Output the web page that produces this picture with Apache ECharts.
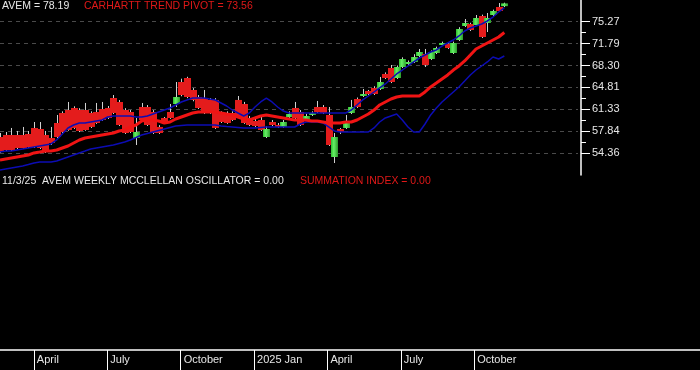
<!DOCTYPE html>
<html><head><meta charset="utf-8">
<script src="https://cdn.jsdelivr.net/npm/echarts@6/dist/echarts.min.js"></script>
<style>html,body{margin:0;padding:0;background:#000;}#c{width:700px;height:370px;}</style>
</head><body><div id="c"></div>
<script>
const startWeek = '2024-02-19';
const priceSlots = 103;
const axisSlots = 125;

const openVals = [56.91,57.23,57.23,57.23,57.23,57.39,58.35,58.19,57.23,56.75,
59.14,60.73,61.21,61.53,61.21,61.21,60.73,60.89,61.37,61.53,
63.12,62.49,61.21,60.89,56.75,61.69,61.69,60.89,58.51,59.94,
60.89,62.17,65.67,66.31,64.40,63.28,63.12,62.81,62.81,60.73,
60.73,60.73,62.81,62.17,59.94,59.46,59.62,56.91,59.30,58.82,
58.51,60.10,61.53,60.89,59.62,60.42,61.69,61.69,60.42,53.73,
58.19,58.35,60.73,62.96,63.44,64.24,64.72,64.56,66.95,67.90,
66.31,68.06,68.54,68.86,69.81,70.13,69.33,70.29,71.56,71.72,
70.29,72.36,74.59,74.91,74.75,76.18,75.07,76.34,77.62,77.75];
const closeVals = [54.52,54.84,54.84,55.16,55.16,55.32,55.32,55.16,54.52,55.96,
56.91,57.71,58.03,58.35,57.87,58.03,58.51,59.14,59.62,59.94,
60.73,58.82,57.55,57.71,57.71,59.62,58.82,57.55,57.55,59.30,
59.94,63.28,63.60,63.28,62.81,61.53,60.73,60.73,58.35,59.30,
59.14,59.62,60.10,59.14,58.82,58.66,58.03,58.19,58.82,58.51,
59.30,60.57,59.94,58.82,60.26,60.73,60.89,60.73,55.64,56.91,
57.71,59.30,61.69,61.69,63.76,63.76,63.76,65.67,66.31,65.67,
68.06,69.33,68.86,69.65,70.45,68.38,70.45,71.09,71.88,71.09,
71.88,74.11,75.07,73.95,75.86,72.84,75.86,76.98,76.98,78.19];
const lowVals = [54.37,54.68,54.68,55.00,55.00,55.16,55.16,55.00,54.37,55.64,
56.75,57.50,57.90,58.20,57.70,57.90,58.35,59.00,59.46,59.78,
60.57,58.66,57.39,57.55,55.64,59.46,58.66,57.39,57.39,59.14,
59.80,61.69,63.40,63.10,62.60,61.37,60.57,60.57,58.19,59.14,
59.00,59.46,59.94,59.00,58.66,58.50,57.87,56.75,58.66,58.35,
58.35,59.94,59.78,58.66,59.46,60.26,60.73,60.57,55.48,52.77,
57.39,58.19,60.57,61.53,63.28,63.60,63.60,64.40,66.15,65.50,
66.15,67.90,68.40,68.70,69.65,68.06,69.17,70.13,71.40,70.93,
70.13,72.20,74.43,73.79,74.59,72.68,73.63,76.18,76.82,77.60];
const highVals = [57.55,57.71,58.35,57.87,58.51,57.87,59.30,59.30,57.87,58.51,
60.42,61.00,62.49,61.80,61.50,62.33,61.00,62.33,62.49,61.85,
63.60,62.80,61.50,61.20,59.94,62.33,62.00,61.20,58.80,60.10,
62.17,65.67,66.20,66.50,64.70,63.60,64.40,63.10,63.10,61.00,
61.00,61.00,63.44,62.50,60.26,59.80,60.10,58.60,59.62,59.14,
59.62,61.00,62.49,61.20,60.60,61.00,62.65,62.00,61.69,57.55,
58.35,60.42,62.81,63.20,64.56,64.40,65.00,66.47,67.20,68.38,
68.30,69.60,69.10,70.10,70.93,70.93,70.70,71.30,72.10,72.00,
72.10,74.40,75.70,75.10,76.34,76.40,76.66,77.20,78.25,78.30];
const pivotVals = [53.25,53.41,53.57,53.73,53.89,54.05,54.37,54.52,54.68,54.68,
54.84,55.16,55.48,55.96,56.44,56.75,56.91,57.07,57.23,57.39,
57.55,57.87,58.03,58.51,58.82,59.46,59.62,59.62,59.46,59.14,
59.30,59.78,60.10,60.42,60.73,60.89,60.89,60.89,60.89,60.73,
60.57,60.42,60.10,59.78,59.62,59.94,60.26,60.42,60.26,60.10,
59.94,59.78,59.62,59.62,59.62,59.46,59.46,59.30,59.14,59.14,
59.14,59.30,59.30,59.62,60.10,60.57,61.21,62.01,62.49,62.96,
63.28,63.44,63.44,63.44,63.44,64.08,64.88,65.51,66.15,66.79,
67.58,68.22,69.02,69.97,70.93,71.40,71.88,72.36,72.84,73.56];
const upperBand = [54.52,54.68,54.68,54.84,55.00,55.16,55.32,55.48,55.64,55.80,
56.44,57.39,58.35,58.82,59.14,59.14,59.30,59.46,59.62,60.10,
60.26,60.26,60.26,60.26,60.10,60.10,60.26,60.57,60.89,61.21,
61.53,62.01,62.49,62.81,63.12,63.12,63.12,62.96,62.81,62.33,
61.85,61.21,60.73,60.26,60.73,61.69,62.49,63.12,62.49,61.69,
61.05,60.73,60.73,60.73,60.73,60.73,60.73,60.73,60.73,60.73,
60.73,60.73,61.21,62.01,62.81,63.44,64.08,64.72,65.36,66.15,
66.95,67.58,68.22,68.86,69.49,69.97,70.45,70.77,71.40,71.88,
72.36,73.00,73.79,74.27,74.59,74.91,75.39,76.02,76.82,77.46];
const lowerBand = [51.66,51.82,51.98,52.14,52.30,52.53,52.77,52.93,52.93,52.93,
53.09,53.41,53.73,54.05,54.37,54.68,55.00,55.16,55.32,55.48,
55.64,55.88,56.12,56.44,56.83,57.23,57.47,57.71,57.95,58.19,
58.43,58.66,58.74,58.82,58.82,58.82,58.82,58.82,58.82,58.66,
58.58,58.51,58.43,58.35,58.35,58.35,58.43,58.51,58.51,58.51,
58.51,58.51,58.51,58.98,59.30,59.30,59.30,59.14,58.51,57.87,
57.71,57.71,57.71,57.71,57.71,57.71,58.35,59.30,59.94,60.26,
60.57,59.62,58.51,57.71,57.71,58.98,60.42,61.53,62.49,63.28,
64.08,64.88,65.83,66.79,67.58,68.22,68.86,69.65,69.33,69.81];

const priceTicks = [54.36,57.84,61.33,64.81,68.30,71.79,75.27];
const minorTicks = [56.10,59.59,63.07,66.56,70.05,73.53];
const quarterWeeks = ['2024-04-01','2024-07-01','2024-09-30','2024-12-30','2025-03-31','2025-06-30','2025-09-29'];
const quarterLabels = ['April','July','October','2025 Jan','April','July','October'];
const lastDateLabel = '11/3/25';

function weekList(start, n){
  const out=[]; const t0=Date.parse(start+'T00:00:00Z');
  for(let i=0;i<n;i++){ out.push(new Date(t0+i*7*86400000).toISOString().slice(0,10)); }
  return out;
}
const priceCats = weekList(startWeek, priceSlots);
const axisCats = weekList(startWeek, axisSlots);

const candleData = openVals.map((o,i)=>[i,o,closeVals[i],lowVals[i],highVals[i]]);

const G = echarts.graphic;
const greenFill = new G.LinearGradient(0,0,1,0,[{offset:0,color:'#2fbf2f'},{offset:0.4,color:'#66f066'},{offset:1,color:'#2a9a2a'}]);
const redFill = '#e41c1c';

function renderWick(params, api){
  const i=api.value(0), l=api.value(3), h=api.value(4);
  const pL=api.coord([i,l]), pH=api.coord([i,h]);
  const x=Math.round(pL[0]);
  return {type:'line', shape:{x1:x+0.5,y1:pH[1],x2:x+0.5,y2:pL[1]}, style:{stroke:'#d0d0d0',lineWidth:1}};
}
function renderBody(params, api){
  const i=api.value(0), o=api.value(1), c=api.value(2);
  const pO=api.coord([i,o]), pC=api.coord([i,c]);
  const x=Math.round(pO[0]);
  const top=Math.min(pO[1],pC[1]), bot=Math.max(pO[1],pC[1]);
  return {type:'rect', shape:{x:x-3,y:top,width:7,height:Math.max(bot-top,1.5)}, style:{fill:c>=o?greenFill:redFill}};
}

const qSet = new Set(quarterWeeks);
const chart = echarts.init(document.getElementById('c'), null, {renderer:'canvas'});
const txtFont = '10.5px "Liberation Sans", Arial, sans-serif';
chart.setOption({
  backgroundColor:'#000',
  animation:false,
  grid:[
    {left:0, top:0, right:122, height:175},
    {left:0, top:175, right:-3, height:175}
  ],
  xAxis:[
    {type:'category', gridIndex:0, data:priceCats, boundaryGap:false, show:false},
    {type:'category', gridIndex:1, data:axisCats, boundaryGap:false, position:'bottom',
     axisLine:{show:true, lineStyle:{color:'#ffffff', width:1.5}},
     axisTick:{show:true, interval:(idx,val)=>qSet.has(val), length:20, lineStyle:{color:'#ffffff', width:1}},
     axisLabel:{show:true, interval:(idx,val)=>qSet.has(val), align:'left', padding:[0,0,0,3], margin:4,
       color:'#e6e6e6', fontSize:11, fontFamily:'"Liberation Sans", Arial, sans-serif',
       formatter:(val)=>{const k=quarterWeeks.indexOf(val); return k>=0?quarterLabels[k]:'';}},
     splitLine:{show:false}}
  ],
  yAxis:[
    {type:'value', gridIndex:0, position:'right', offset:3, min:50.86, max:78.73, scale:true,
     axisLine:{show:true, onZero:false, lineStyle:{color:'#ffffff', width:1.5}},
     axisTick:{show:true, customValues:priceTicks, length:9, lineStyle:{color:'#ffffff'}},
     axisLabel:{show:true, customValues:priceTicks, margin:11, color:'#e6e6e6', fontSize:11,
       fontFamily:'"Liberation Sans", Arial, sans-serif', formatter:(v)=>Number(v).toFixed(2)},
     splitLine:{show:true, lineStyle:{color:'#4a4a4a', type:[4,4], width:1}}},
    {type:'value', gridIndex:0, position:'right', offset:3, min:50.86, max:78.73, scale:true,
     axisLine:{show:false},
     axisTick:{show:true, customValues:minorTicks, length:5, lineStyle:{color:'#ffffff'}},
     axisLabel:{show:false}, splitLine:{show:false}},
    {type:'value', gridIndex:1, show:false, min:0, max:1}
  ],
  series:[
    {type:'custom', name:'AVEM wicks', xAxisIndex:0, yAxisIndex:0, renderItem:renderWick,
     encode:{x:0, y:[3,4]}, data:candleData, clip:true, z:1},
    {type:'custom', name:'AVEM', xAxisIndex:0, yAxisIndex:0, renderItem:renderBody,
     encode:{x:0, y:[1,2]}, data:candleData, clip:true, z:2},
    {type:'line', name:'Lower', xAxisIndex:0, yAxisIndex:0, data:lowerBand, showSymbol:false, symbol:'none',
     lineStyle:{color:'#0c0cb4', width:1.5}, z:3},
    {type:'line', name:'Upper', xAxisIndex:0, yAxisIndex:0, data:upperBand, showSymbol:false, symbol:'none',
     lineStyle:{color:'#0c0cb4', width:1.5}, z:3},
    {type:'line', name:'Pivot', xAxisIndex:0, yAxisIndex:0, data:pivotVals, showSymbol:false, symbol:'none',
     lineStyle:{color:'#f01414', width:3}, z:4}
  ],
  graphic:[
    {type:'text', left:2, top:1, style:{text:'AVEM = '+closeVals[closeVals.length-1].toFixed(2), fill:'#e8e8e8', font:txtFont}},
    {type:'text', left:84, top:1, style:{text:'CARHARTT TREND PIVOT = '+pivotVals[pivotVals.length-1].toFixed(2), fill:'#e01818', font:txtFont}},
    {type:'text', left:2, top:176, style:{text:lastDateLabel+'  AVEM WEEKLY MCCLELLAN OSCILLATOR = 0.00', fill:'#e8e8e8', font:txtFont}},
    {type:'text', left:300, top:176, style:{text:'SUMMATION INDEX = 0.00', fill:'#e01818', font:txtFont}}
  ]
});
</script></body></html>
